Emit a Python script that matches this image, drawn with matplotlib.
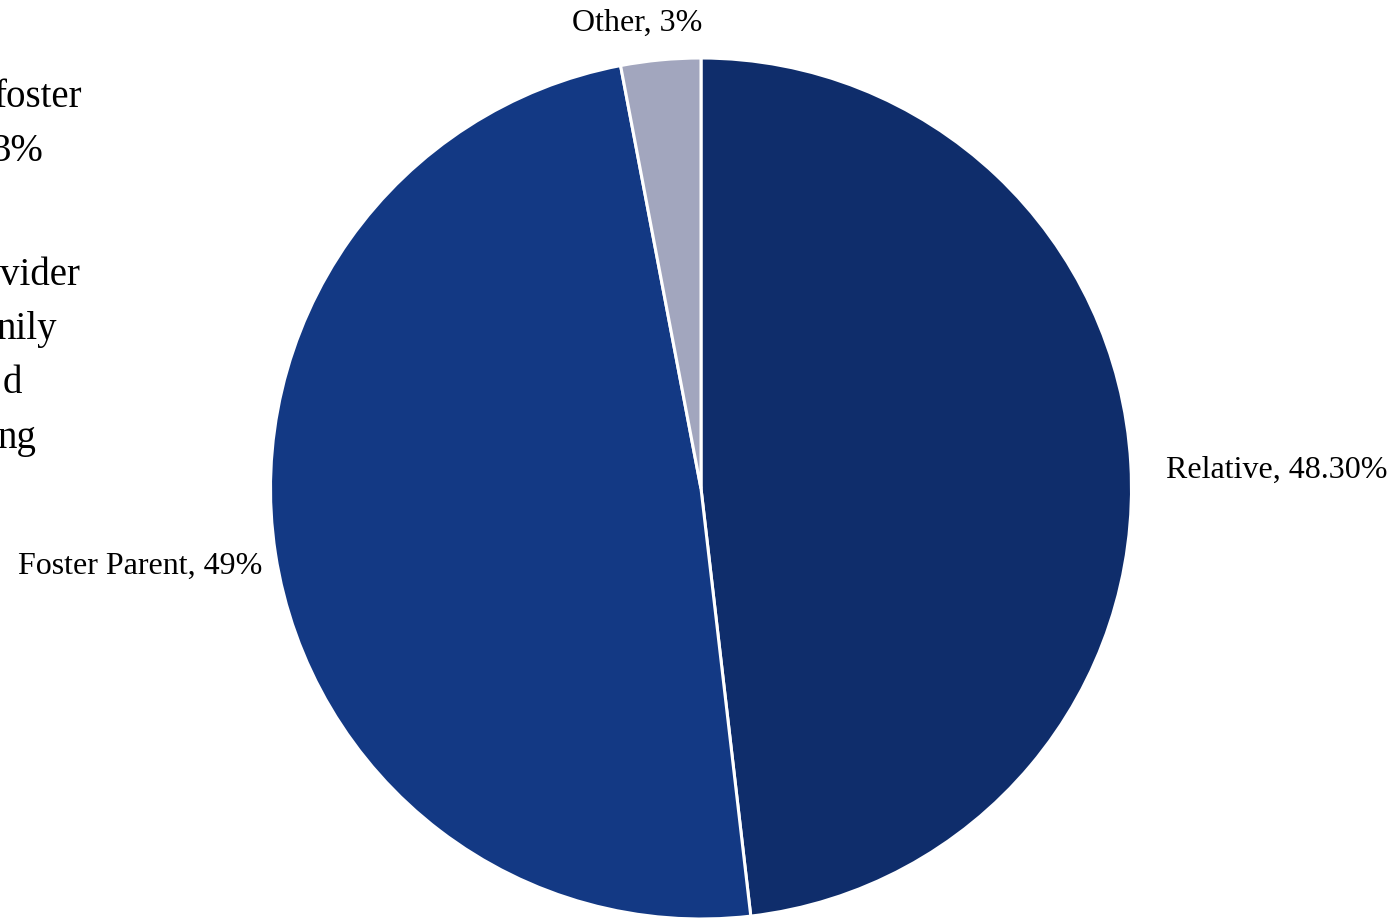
import matplotlib
matplotlib.use("Agg")
import matplotlib.pyplot as plt

# Data
categories = ["Relative", "Foster Parent", "Other"]
values = [48.3, 49, 3]
label_texts = ["Relative, 48.30%", "Foster Parent, 49%", "Other, 3%"]
colors = ["#0F2D6B", "#133984", "#A2A6BE"]

# Cropped slide text fragments on the left (partly outside the frame)
side_text = ["foster", "3%", "vider", "nily", "d", "ng"]

W, H = 1391, 920
fig = plt.figure(figsize=(W / 100, H / 100), dpi=100)
fig.patch.set_facecolor("white")

serif = ["Liberation Serif", "DejaVu Serif"]

cx, cy, r = 701, 489.5, 430.5
ax = fig.add_axes([(cx - r) / W, (H - cy - r) / H, 2 * r / W, 2 * r / H])
wedges, _ = ax.pie(values, colors=colors, startangle=90, counterclock=False,
                   radius=1, wedgeprops=dict(edgecolor="white", linewidth=2.2))
for w in wedges:
    w.set_clip_on(False)
ax.set_xlim(-1, 1)
ax.set_ylim(-1, 1)
ax.set_aspect("equal")
ax.axis("off")

def px(x, y):
    return x / W, 1 - y / H

# Data labels
lab_pos = [(1166, 478, "left"), (262, 574, "right"), (637, 31, "center")]
for (x, y, ha), t in zip(lab_pos, label_texts):
    fig.text(*px(x, y), t, ha=ha, va="baseline", fontsize=23,
             family=serif, color="black")

# Left slide text fragments
side_pos = [(82, 107), (43, 161), (80, 285), (57, 339), (22, 393), (36, 448)]
for (x, y), t in zip(side_pos, side_text):
    fig.text(*px(x, y), t, ha="right", va="baseline", fontsize=28,
             family=serif, color="black")

fig.savefig("out.png", dpi=100, facecolor="white")
